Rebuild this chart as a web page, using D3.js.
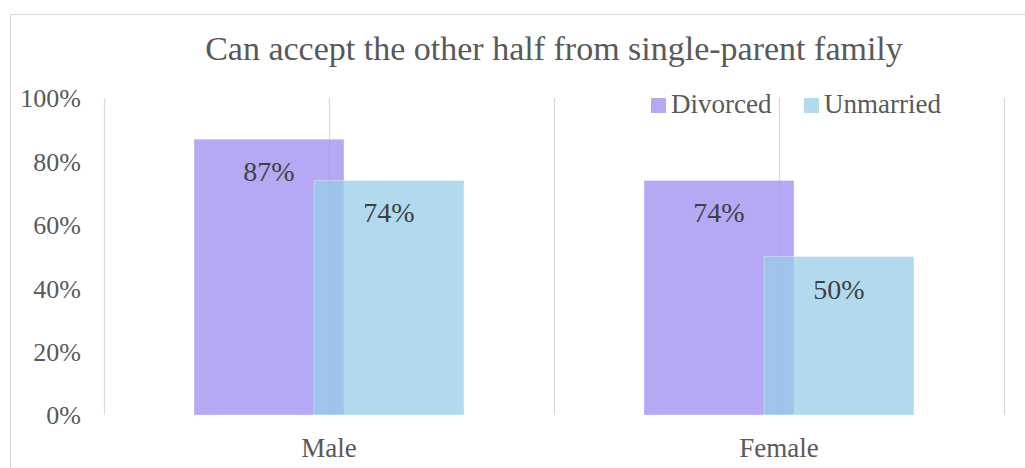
<!DOCTYPE html>
<html lang="en">

<head>
   <meta charset="utf-8">
   <script src="https://d3js.org/d3.v7.min.js"></script>
   <title>Can accept the other half from single-parent family</title>
   <style>
      body { margin: 0; background: #fff; }
      svg { display: block; }
      svg text { font-family: "Liberation Serif", "Times New Roman", serif !important; }
   </style>
</head>

<body>
   <div id="chart"></div>

   <script type="text/javascript">

      // Chart data
      var categories = ["Male", "Female"];
      var seriesNames = ["Divorced", "Unmarried"];
      var divorced = [0.87, 0.74];
      var unmarried = [0.74, 0.50];
      var yTicks = [0, 0.2, 0.4, 0.6, 0.8, 1.0];
      var titleText = "Can accept the other half from single-parent family";

      var colors = ["#9c8cf2", "#98cee8"];
      var serif = "Liberation Serif, Times New Roman, serif";

      // Page dimensions
      var width = 1025, height = 468;
      var plot = { left: 104, right: 1004, top: 98, bottom: 415 };

      var svg = d3.select("#chart")
         .append("svg")
         .attr("width", width)
         .attr("height", height);

      // Outer chart border
      svg.append("rect")
         .attr("x", 10.5)
         .attr("y", 14.5)
         .attr("width", 1040)
         .attr("height", 480)
         .attr("fill", "none")
         .attr("stroke", "#d9d9d9");

      // Scales
      var x = d3.scaleBand()
         .domain(categories)
         .range([plot.left, plot.right])
         .padding(0);

      var y = d3.scaleLinear()
         .domain([0, 1])
         .range([plot.bottom, plot.top]);

      var bw = x.bandwidth();
      var barW = bw / 3;        // 150px
      var overlap = barW * 0.2; // bars overlap each other

      // Vertical grid lines: band edges and band centres
      var gridX = [];
      categories.forEach(function (c) {
         gridX.push(x(c));
         gridX.push(x(c) + bw / 2);
      });
      gridX.push(plot.right);

      svg.append("g")
         .selectAll("line")
         .data(gridX)
         .enter()
         .append("line")
         .attr("x1", d => Math.round(d) + 0.5)
         .attr("x2", d => Math.round(d) + 0.5)
         .attr("y1", plot.top)
         .attr("y2", plot.bottom)
         .attr("stroke", "#d9d9d9")
         .attr("stroke-width", 1.2);

      // Title
      svg.append("text")
         .attr("x", 554)
         .attr("y", 60)
         .attr("text-anchor", "middle")
         .attr("fill", "#595959")
         .attr("font-family", serif)
         .style("font-size", "34px")
         .text(titleText);

      // Y axis (labels only)
      var yAxis = svg.append("g")
         .attr("transform", "translate(" + plot.left + ",0)")
         .call(d3.axisLeft(y)
            .tickValues(yTicks)
            .tickSize(0)
            .tickPadding(23)
            .tickFormat(d3.format(".0%")));
      yAxis.attr("font-family", serif);
      yAxis.select(".domain").remove();
      yAxis.selectAll("text")
         .attr("fill", "#595959")
         .style("font-size", "26px")
         .attr("dy", "0.34em");

      // X axis (labels only)
      var xAxis = svg.append("g")
         .attr("transform", "translate(0," + plot.bottom + ")")
         .call(d3.axisBottom(x).tickSize(0).tickPadding(0));
      xAxis.attr("font-family", serif);
      xAxis.select(".domain").remove();
      xAxis.selectAll("text")
         .attr("fill", "#595959")
         .attr("y", 42)
         .attr("dy", 0)
         .style("font-size", "27px");

      // Bars
      var series = [divorced, unmarried];
      var offsets = [-(barW - overlap / 2), -overlap / 2];

      series.forEach(function (vals, s) {
         var g = svg.append("g");
         g.selectAll("rect")
            .data(vals)
            .enter()
            .append("rect")
            .attr("x", (d, i) => x(categories[i]) + bw / 2 + offsets[s])
            .attr("y", d => y(d))
            .attr("width", barW)
            .attr("height", d => y(0) - y(d))
            .attr("fill", colors[s])
            .attr("fill-opacity", 0.75)
            .attr("stroke", "#ffffff")
            .attr("stroke-opacity", 0.35)
            .attr("stroke-width", 1);

         g.selectAll("text")
            .data(vals)
            .enter()
            .append("text")
            .attr("x", (d, i) => x(categories[i]) + bw / 2 + offsets[s] + barW / 2)
            .attr("y", d => y(d) + 42)
            .attr("text-anchor", "middle")
            .attr("fill", "#404040")
            .attr("font-family", serif)
            .style("font-size", "28px")
            .text(d => d3.format(".0%")(d));
      });

      // Legend
      var legendX = [651, 804];
      var legend = svg.append("g")
         .selectAll("g")
         .data(seriesNames)
         .enter()
         .append("g")
         .attr("transform", (d, i) => "translate(" + legendX[i] + ",98)");

      legend.append("rect")
         .attr("width", 15)
         .attr("height", 15)
         .attr("fill", (d, i) => colors[i])
         .attr("fill-opacity", 0.75);

      legend.append("text")
         .attr("x", 20)
         .attr("y", 15)
         .attr("fill", "#595959")
         .attr("font-family", serif)
         .style("font-size", "27px")
         .text(d => d);

   </script>
</body>

</html>
